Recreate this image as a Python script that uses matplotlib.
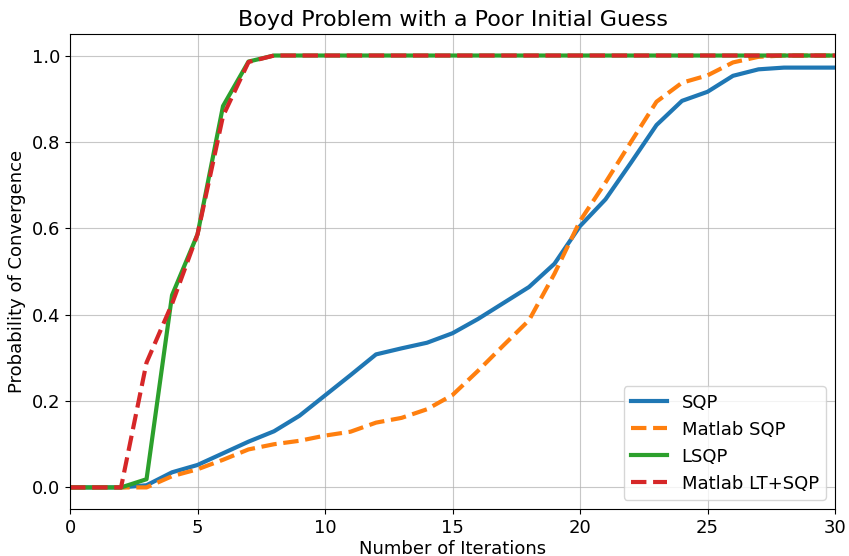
import matplotlib
matplotlib.use("Agg")
import matplotlib.pyplot as plt

# iterations 0..30
iterations = list(range(31))

sqp = [0.0, 0.0, 0.0, 0.005, 0.035, 0.052, 0.079, 0.106, 0.13, 0.166,
       0.213, 0.26, 0.308, 0.322, 0.335, 0.357, 0.39, 0.427, 0.464, 0.518,
       0.605, 0.667, 0.752, 0.839, 0.895, 0.916, 0.953, 0.968, 0.972, 0.972,
       0.972]
matlab_sqp = [0.0, 0.0, 0.0, 0.0, 0.026, 0.042, 0.064, 0.088, 0.1, 0.108,
              0.12, 0.129, 0.15, 0.161, 0.181, 0.214, 0.27, 0.329, 0.387, 0.495,
              0.617, 0.706, 0.8, 0.893, 0.937, 0.954, 0.984, 0.997, 1.0, 1.0,
              1.0]
lsqp = [0.0, 0.0, 0.0, 0.019, 0.445, 0.586, 0.883, 0.986, 1.0, 1.0,
        1.0, 1.0, 1.0, 1.0, 1.0, 1.0, 1.0, 1.0, 1.0, 1.0,
        1.0, 1.0, 1.0, 1.0, 1.0, 1.0, 1.0, 1.0, 1.0, 1.0,
        1.0]
matlab_lt_sqp = [0.0, 0.0, 0.0, 0.289, 0.425, 0.586, 0.86, 0.985, 1.0, 1.0,
                 1.0, 1.0, 1.0, 1.0, 1.0, 1.0, 1.0, 1.0, 1.0, 1.0,
                 1.0, 1.0, 1.0, 1.0, 1.0, 1.0, 1.0, 1.0, 1.0, 1.0,
                 1.0]

fig = plt.figure(figsize=(8.49, 5.56), dpi=100)
ax = fig.add_axes([0.0825, 0.0845, 0.901, 0.8545])

ax.plot(iterations, sqp, color='#1f77b4', linewidth=3, label='SQP')
ax.plot(iterations, matlab_sqp, color='#ff7f0e', linewidth=3, linestyle='--', label='Matlab SQP')
ax.plot(iterations, lsqp, color='#2ca02c', linewidth=3, label='LSQP')
ax.plot(iterations, matlab_lt_sqp, color='#d62728', linewidth=3, linestyle='--', label='Matlab LT+SQP')

ax.set_xlim(0, 30)
ax.set_ylim(-0.05, 1.05)
ax.set_xticks([0, 5, 10, 15, 20, 25, 30])
ax.set_yticks([0.0, 0.2, 0.4, 0.6, 0.8, 1.0])
ax.tick_params(labelsize=13)
ax.grid(True, color='#b0b0b0', alpha=0.7)

ax.set_xlabel('Number of Iterations', fontsize=13, labelpad=2)
ax.set_ylabel('Probability of Convergence', fontsize=13)
ax.set_title('Boyd Problem with a Poor Initial Guess', fontsize=16)
ax.legend(loc='lower right', fontsize=13)

fig.savefig('out.png', dpi=100)
